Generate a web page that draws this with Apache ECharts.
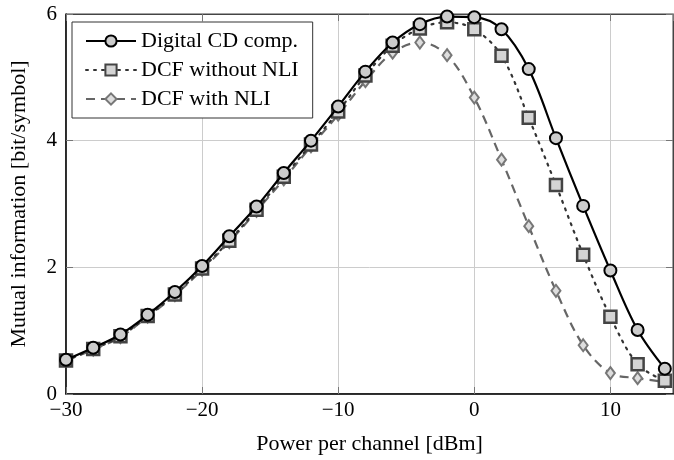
<!DOCTYPE html>
<html>
<head>
<meta charset="utf-8">
<script src="https://cdn.jsdelivr.net/npm/echarts@6/dist/echarts.min.js"></script>
<style>html,body{margin:0;padding:0;background:#fff}#c{width:674px;height:460px}</style>
</head>
<body>
<div id="c"></div>
<script>
var powers = [-30, -28, -26, -24, -22, -20, -18, -16, -14, -12, -10, -8, -6, -4, -2, 0, 2, 4, 6, 8, 10, 12, 14];
var digitalCD = [0.54, 0.73, 0.94, 1.25, 1.61, 2.02, 2.49, 2.96, 3.49, 4.00, 4.54, 5.09, 5.55, 5.84, 5.96, 5.95, 5.76, 5.13, 4.04, 2.97, 1.95, 1.01, 0.40];
var dcfNoNLI = [0.53, 0.71, 0.91, 1.23, 1.57, 1.98, 2.42, 2.91, 3.43, 3.94, 4.46, 5.03, 5.50, 5.77, 5.87, 5.76, 5.34, 4.36, 3.30, 2.20, 1.22, 0.47, 0.21];
var dcfNLI = [0.53, 0.70, 0.90, 1.22, 1.56, 1.96, 2.40, 2.89, 3.39, 3.91, 4.41, 4.94, 5.39, 5.55, 5.35, 4.68, 3.70, 2.65, 1.63, 0.77, 0.33, 0.25, 0.19];
var seriesNames = ['Digital CD comp.', 'DCF without NLI', 'DCF with NLI'];
var xTicks = [-30, -20, -10, 0, 10];
var yTicks = [0, 2, 4, 6];

function pairs(ys) { return powers.map(function (x, i) { return [x, ys[i]]; }); }
var FONT = "'Liberation Serif', 'DejaVu Serif', serif";
var chart = echarts.init(document.getElementById('c'), null, {renderer: 'canvas'});
var fmtX = function (v) {
  return xTicks.indexOf(v) >= 0 ? String(v).replace('-', '\u2212') : '';
};
var fmtY = function (v) { return yTicks.indexOf(v) >= 0 ? String(v) : ''; };
chart.setOption({
  animation: false,
  backgroundColor: '#fff',
  textStyle: {fontFamily: FONT},
  grid: {left: 59, right: 1, top: 14, bottom: 65, show: true, borderColor: '#444', borderWidth: 1},
  legend: {
    left: 72, top: 22, orient: 'vertical',
    data: seriesNames,
    backgroundColor: '#fff',
    borderColor: '#333', borderWidth: 1,
    padding: [8, 14, 8, 13],
    itemWidth: 50, itemHeight: 14, itemGap: 7,
    textStyle: {fontFamily: FONT, fontSize: 22, color: '#000', lineHeight: 21}
  },
  xAxis: [{
    type: 'value', min: -30, max: 14.6, interval: 10,
    name: 'Power per channel [dBm]', nameLocation: 'middle', nameGap: 39,
    nameTextStyle: {fontFamily: FONT, fontSize: 22, color: '#000'},
    axisLine: {onZero: false, lineStyle: {color: '#000', width: 1.5}},
    axisTick: {inside: true, length: 7, lineStyle: {color: '#777'}},
    axisLabel: {fontFamily: FONT, fontSize: 21, color: '#000', margin: 6, formatter: fmtX, showMaxLabel: false},
    splitLine: {show: true, lineStyle: {color: '#ccc', width: 1}}
  }, {
    type: 'value', position: 'top', min: -30, max: 14.6, interval: 10,
    axisLine: {show: true, onZero: false, lineStyle: {color: '#444', width: 1}},
    axisTick: {inside: true, length: 7, lineStyle: {color: '#777'}},
    axisLabel: {show: false}, splitLine: {show: false}
  }],
  yAxis: [{
    type: 'value', min: 0, max: 6, interval: 2,
    name: 'Mutual information [bit/symbol]', nameLocation: 'middle', nameGap: 36,
    nameTextStyle: {fontFamily: FONT, fontSize: 22, color: '#000'},
    axisLine: {show: true, onZero: false, lineStyle: {color: '#000', width: 1.5}},
    axisTick: {show: true, inside: true, length: 7, lineStyle: {color: '#777'}},
    axisLabel: {fontFamily: FONT, fontSize: 21, color: '#000', margin: 9, formatter: fmtY},
    splitLine: {show: true, lineStyle: {color: '#ccc', width: 1}}
  }, {
    type: 'value', position: 'right', min: 0, max: 6, interval: 2,
    axisLine: {show: true, onZero: false, lineStyle: {color: '#444', width: 1}},
    axisTick: {show: true, inside: true, length: 7, lineStyle: {color: '#777'}},
    axisLabel: {show: false}, splitLine: {show: false}
  }],
  series: [{
    name: seriesNames[2], type: 'line', smooth: 0.35, data: pairs(dcfNLI), z: 2,
    symbol: 'diamond', symbolSize: [9, 12],
    lineStyle: {color: '#666', width: 2.2, type: [9, 6]},
    itemStyle: {color: '#ddd', borderColor: '#777', borderWidth: 2}
  }, {
    name: seriesNames[1], type: 'line', smooth: 0.35, data: pairs(dcfNoNLI), z: 3,
    symbol: 'rect', symbolSize: 12,
    lineStyle: {color: '#333', width: 2.2, type: [2, 6], cap: 'round'},
    itemStyle: {color: '#d4d4d4', borderColor: '#444', borderWidth: 2.5}
  }, {
    name: seriesNames[0], type: 'line', smooth: 0.35, data: pairs(digitalCD), z: 4,
    symbol: 'circle', symbolSize: 12,
    lineStyle: {color: '#000', width: 2.2},
    itemStyle: {color: '#ccc', borderColor: '#000', borderWidth: 2}
  }]
});
</script>
</body>
</html>
